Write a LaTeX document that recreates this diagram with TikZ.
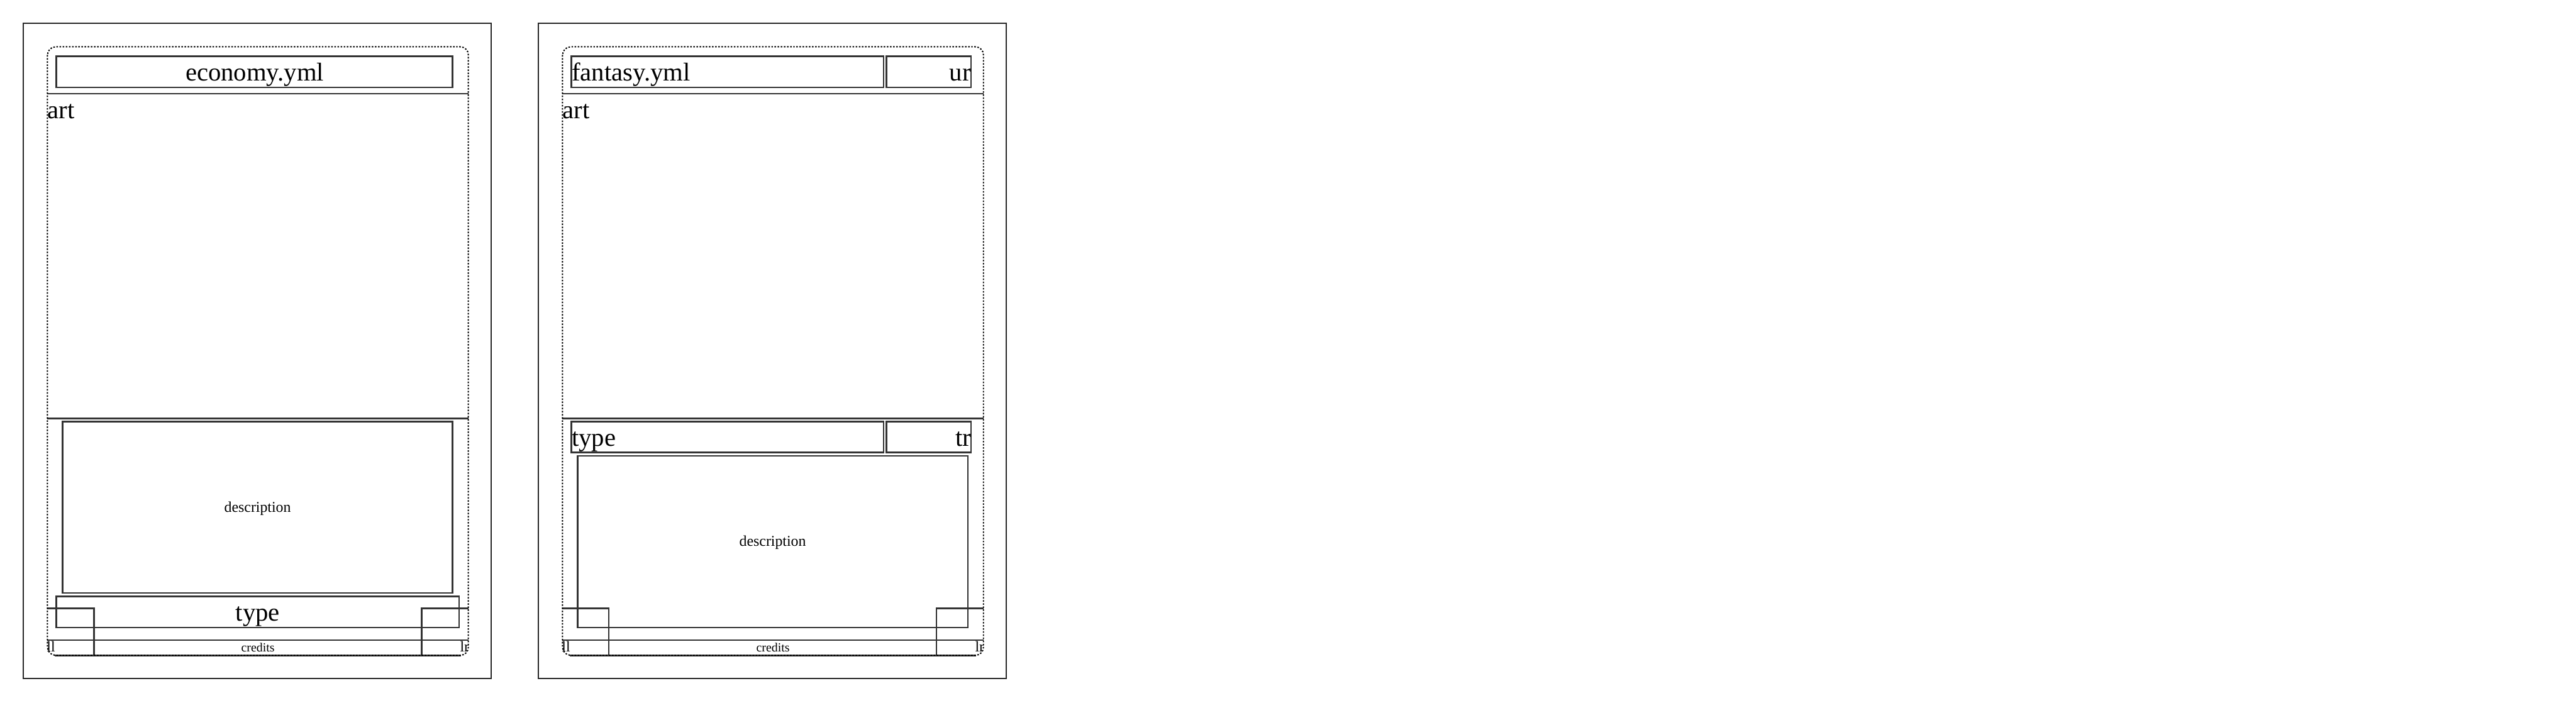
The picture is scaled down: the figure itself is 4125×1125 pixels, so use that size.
\documentclass[tikz,border=0pt]{standalone}
\usepackage{fontspec}
\setmainfont{Liberation Serif}
\definecolor{boxgray}{HTML}{333333}
\tikzset{
  box/.style={draw=boxgray, line width=2.5pt},
  cardframe/.style={draw=black!85, line width=2pt},
  guide/.style={draw=black, line width=2pt, dash pattern=on 2.5pt off 2.5pt, rounded corners=13pt},
  bigtxt/.style={font=\fontsize{41}{48}\selectfont, inner sep=0pt, outer sep=0pt},
  smalltxt/.style={font=\fontsize{24}{28}\selectfont, inner sep=0pt, outer sep=0pt},
  tinytxt/.style={font=\fontsize{20}{24}\selectfont, inner sep=0pt, outer sep=0pt}
}
\begin{document}
\begin{tikzpicture}[x=1pt,y=-1pt]
\useasboundingbox (0,0) rectangle (4125,1125);
% ---------------- left card ----------------
\draw[cardframe] (37,37) rectangle (786.7,1087);
\draw[box] (90.3,90) rectangle (724.8,140);
\node[bigtxt, anchor=base] (atitle) at (408,129.5) {economy.yml};
\draw[box] (76,150) -- (750,150);
\draw[box] (76,670) -- (750,670);
\node[bigtxt, anchor=base west] (aart) at (76,189.5) {art};
\draw[box] (100,675) rectangle (724.8,949.5);
\node[smalltxt, anchor=base] (adesc) at (412.5,820) {description};
\draw[box] (90.3,955) rectangle (735,1005);
\node[bigtxt, anchor=base] (atype) at (412.7,994.5) {type};
\draw[box] (76,974.5) -- (150.5,974.5) -- (150.5,1050);
\draw[box] (750,974.5) -- (675,974.5) -- (675,1050);
\draw[box] (76,1025) -- (750,1025);
\draw[box] (88,1050) -- (738,1050);
\node[tinytxt, anchor=base] (acred) at (413,1044.3) {credits};
\begin{scope}
  \clip (76,974.5) rectangle (150.5,1050);
  \node[smalltxt, anchor=base west] (all) at (75,1044) {ll};
\end{scope}
\begin{scope}
  \clip (675,974.5) rectangle (750,1050);
  \node[smalltxt, anchor=base west] (alr) at (736.7,1044) {lr};
\end{scope}
\draw[guide] (76,75) rectangle (750,1049.5);
% ---------------- right card ----------------
\begin{scope}[xshift=824.8pt]
\draw[cardframe] (37,37) rectangle (786.7,1087);
\draw[box] (90.3,90) rectangle (590,140);
\node[bigtxt, anchor=base west] (btitle) at (90.8,129.5) {fantasy.yml};
\draw[box] (594.5,90) rectangle (730,140);
\node[bigtxt, anchor=base east] (bur) at (730,129.5) {ur};
\draw[box] (76,150) -- (750,150);
\draw[box] (76,670) -- (750,670);
\node[bigtxt, anchor=base west] (bart) at (76,189.5) {art};
\draw[box] (90.3,675) rectangle (590,724.5);
\node[bigtxt, anchor=base west] (btype) at (90.8,714.5) {type};
\draw[box] (594.5,675) rectangle (730,724.5);
\node[bigtxt, anchor=base east] (btr) at (730,714.5) {tr};
\draw[box] (100,730) rectangle (725,1005);
\node[smalltxt, anchor=base] (bdesc) at (412.5,875) {description};
\draw[box] (76,974.5) -- (150,974.5) -- (150,1050);
\draw[box] (750,974.5) -- (674.5,974.5) -- (674.5,1050);
\draw[box] (76,1025) -- (750,1025);
\draw[box] (88,1050) -- (738,1050);
\node[tinytxt, anchor=base] (bcred) at (413,1044.3) {credits};
\begin{scope}
  \clip (76,974.5) rectangle (150,1050);
  \node[smalltxt, anchor=base west] (bll) at (75,1044) {ll};
\end{scope}
\begin{scope}
  \clip (674.5,974.5) rectangle (750,1050);
  \node[smalltxt, anchor=base west] (blr) at (736.7,1044) {lr};
\end{scope}
\draw[guide] (76,75) rectangle (750,1049.5);
\end{scope}
\end{tikzpicture}
\end{document}
